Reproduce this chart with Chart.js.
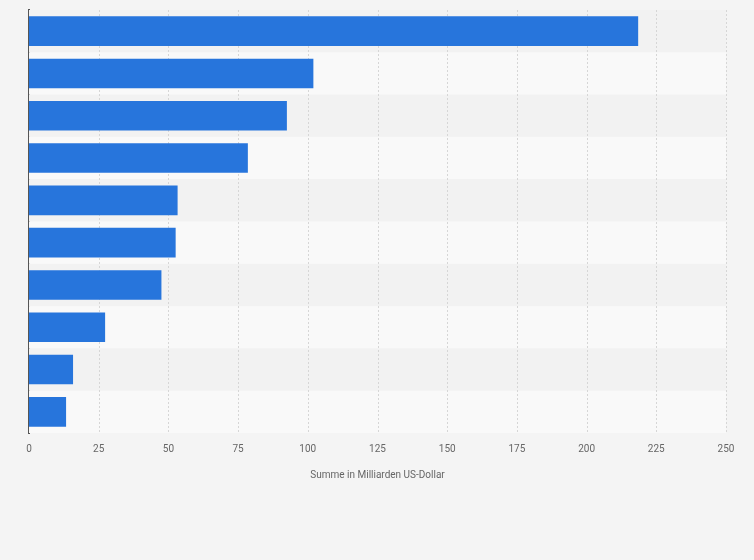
<!DOCTYPE html>
<html><head><meta charset="utf-8">
<script src="https://cdn.jsdelivr.net/npm/chart.js@4/dist/chart.umd.min.js"></script>
<style>html,body{margin:0;padding:0;background:#f4f4f4;}#w{width:754px;height:560px;}</style>
</head><body><div id="w"><canvas id="c"></canvas></div>
<script>
const categories = ["1","2","3","4","5","6","7","8","9","10"];
const values = [218.5, 102, 92.5, 78.5, 53.3, 52.6, 47.5, 27.3, 15.8, 13.3];
const xTicks = [0,25,50,75,100,125,150,175,200,225,250];
const axisTitle = "Summe in Milliarden US-Dollar";

const bands = {
  id:'bands',
  beforeDatasetsDraw(chart){
    const {ctx, chartArea:a, scales:{y}} = chart;
    ctx.save();
    categories.forEach((c,i)=>{
      const cy = y.getPixelForValue(i);
      const h = y.getPixelForValue(1)-y.getPixelForValue(0);
      ctx.fillStyle = i%2===0 ? '#f2f2f2' : '#f9f9f9';
      ctx.fillRect(a.left, cy-h/2, a.right-a.left, h);
    });
    ctx.restore();
  }
};
const vgrid = {
  id:'vgrid',
  beforeDatasetsDraw(chart){
    const {ctx, chartArea:a, scales:{x}} = chart;
    ctx.save();
    ctx.strokeStyle='#d6d6d6'; ctx.lineWidth=1; ctx.setLineDash([2,2]);
    xTicks.forEach(t=>{ if(t===0) return;
      const px=Math.round(x.getPixelForValue(t))+0.5;
      ctx.beginPath(); ctx.moveTo(px,a.top); ctx.lineTo(px,a.bottom); ctx.stroke();});
    ctx.restore();
  }
};
new Chart(document.getElementById('c'),{
  type:'bar',
  data:{labels:categories,datasets:[{data:values,backgroundColor:'#2775dc',borderWidth:0,categoryPercentage:1,barPercentage:0.7}]},
  options:{
    indexAxis:'y',responsive:true,maintainAspectRatio:false,animation:false,
    layout:{padding:{left:29,right:28,top:10,bottom:75}},
    plugins:{legend:{display:false},tooltip:{enabled:false}},
    scales:{
      x:{min:0,max:250,afterBuildTicks:s=>{s.ticks=xTicks.map(v=>({value:v}));},
         grid:{display:false,drawTicks:false},border:{display:false},
         ticks:{color:'#666',font:{family:'Roboto',size:10},padding:10},
         title:{display:true,text:axisTitle,color:'#666',font:{family:'Roboto',size:10},padding:{top:4}}},
      y:{grid:{display:false,drawTicks:false},border:{display:true,color:'#555',width:2},
         ticks:{display:false}}
    }
  },
  plugins:[bands,vgrid]
});
</script></body></html>
